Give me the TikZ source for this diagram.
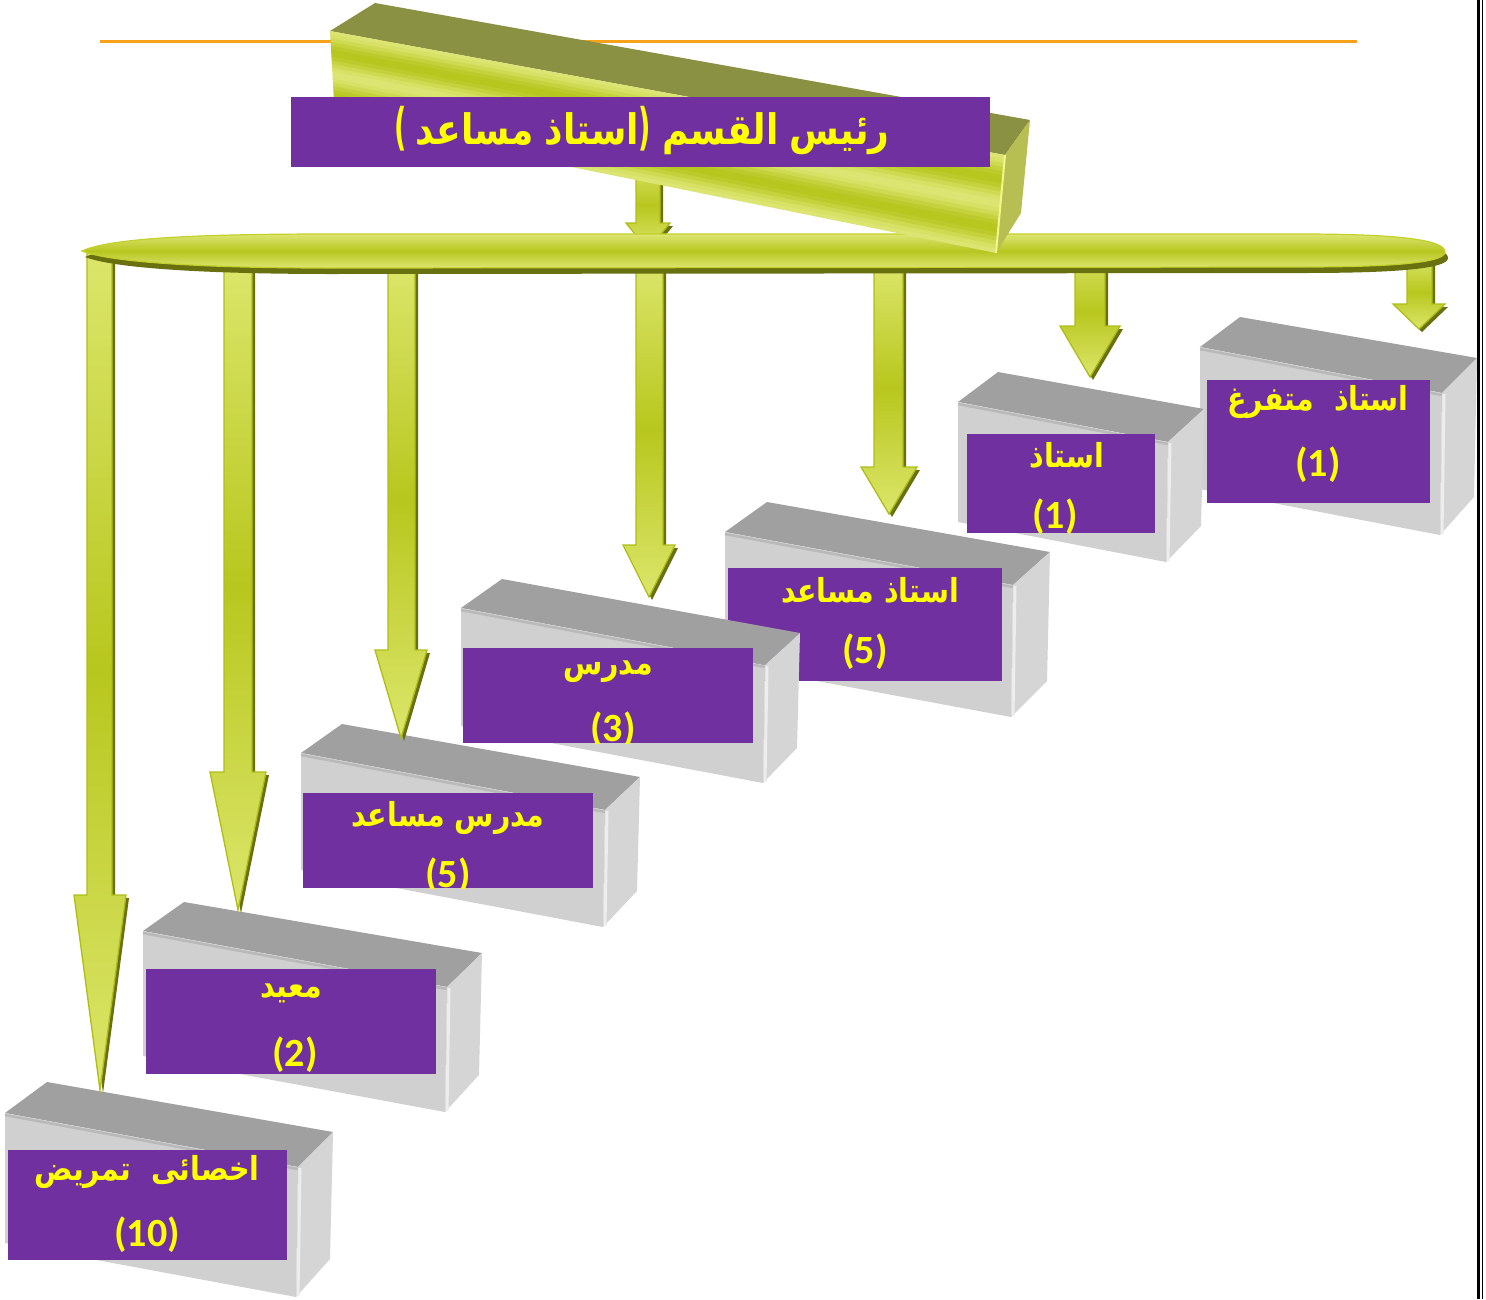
\documentclass[tikz,border=0pt]{standalone}
\usepackage{fontspec}
\usepackage{graphicx}
\TeXXeTstate=1
\newfontfamily\arabicfont[Script=Arabic]{DejaVu Sans}
\newfontfamily\parenfont{DejaVu Sans}
\newfontfamily\numfont{Carlito}
\definecolor{boxpurple}{HTML}{7030A0}
\definecolor{labyellow}{HTML}{FFFF00}
\definecolor{topgray}{HTML}{A0A0A0}
\definecolor{frontgray}{HTML}{D0D0D0}
\definecolor{sidegray}{HTML}{D5D5D5}
\definecolor{edgegray}{HTML}{B9B9B9}
\definecolor{stripwhite}{HTML}{EDEDED}
\definecolor{arrlight}{HTML}{DCE66B}
\definecolor{arrdark}{HTML}{B8C71E}
\definecolor{arrborder}{HTML}{AFBE17}
\definecolor{arrshadow}{HTML}{687010}
\definecolor{beamlight}{HTML}{DDE672}
\definecolor{beamdark}{HTML}{B7C61F}
\definecolor{beamtop}{HTML}{8A9142}
\definecolor{beamside}{HTML}{B7BF52}
\definecolor{beamedge}{HTML}{F4F58C}
\definecolor{busborder}{HTML}{C3D02A}
\definecolor{orangeline}{HTML}{F7A21B}

\newcommand\ar[1]{{\arabicfont\bfseries\beginR#1\endR}}
\newcommand\tparen[1]{{\parenfont\bfseries\scalebox{0.75}[1.2]{#1}}}

% front-left x,y ; front-right x,y ; back-left x,y ; back-right x,y ; height
\newcommand\stepbox[9]{%
  \fill[topgray] (#1,#2) -- (#5,#6) -- (#7,#8) -- (#3,#4) -- cycle;
  \fill[frontgray] (#1,#2) -- (#3,#4) -- ({#3-2},{#4+#9}) -- (#1,{#2+#9}) -- cycle;
  \draw[edgegray, line width=2.5] (#1,{#2+2}) -- (#3,{#4+2});
  \fill[sidegray] (#3,#4) -- (#7,#8) -- ({#7-3},{#8+#9-3}) -- ({#3-2},{#4+#9}) -- cycle;
  \draw[stripwhite, line width=3] ({#3+2},{#4+1}) -- ({#3},{#4+#9-1});
}

% shaft left, shaft right, top, head y, centre x, head half width, tip y
\newcommand\blockarrow[7]{%
  \fill[arrshadow] ({#1+3},{#3+3}) -- ({#2+3},{#3+3}) -- ({#2+3},{#4+3}) -- ({#5+#6+3},{#4+3}) -- ({#5+3},{#7+3}) -- ({#5-#6+3},{#4+3}) -- ({#1+3},{#4+3}) -- cycle;
  \path[draw=arrborder, line width=1.3, top color=arrlight, bottom color=arrlight, middle color=arrdark] (#1,#3) -- (#2,#3) -- (#2,#4) -- ({#5+#6},#4) -- (#5,#7) -- ({#5-#6},#4) -- (#1,#4) -- cycle;
}

\tikzset{
  purplebox/.style={fill=boxpurple, draw=none, inner sep=0pt},
  labtext/.style={text=labyellow, inner sep=0pt, font=\fontsize{30}{36}\selectfont},
  numtext/.style={text=labyellow, inner sep=0pt, font=\numfont\bfseries\fontsize{40}{48}\selectfont},
  titletext/.style={text=labyellow, inner sep=0pt, font=\fontsize{40}{48}\selectfont},
}

\begin{document}
\begin{tikzpicture}[x=1pt, y=-1pt]
\useasboundingbox (0,0) rectangle (1486,1299);
\fill[white] (0,0) rectangle (1486,1299);

% orange rule
\draw[orangeline, line width=3] (100,41) -- (1357,41);

% ---- boxes, from back (upper right) to front (lower left)
% box 7
\stepbox{1200}{347}{1442}{393}{1240}{317}{1477}{358}{142}
\node[purplebox, minimum width=223, minimum height=123] (b7) at (1318.5,441.5) {};
\begin{scope}
\clip (1207,380) rectangle (1430,503);
\node[labtext] (b7t) at (1318,402) {\scalebox{0.95}[1.1]{\ar{استاذ\ \ متفرغ}}};
\node[numtext] (b7n) at (1318,465) {(1)};
\end{scope}
% box 6
\stepbox{958}{402}{1168}{442}{998}{372}{1204}{409}{120}
\node[purplebox, minimum width=188, minimum height=99] (b6) at (1061,483.5) {};
\begin{scope}
\clip (967,434) rectangle (1155,533);
\node[labtext] (b6t) at (1067,455) {\scalebox{0.95}[1.1]{\ar{استاذ}}};
\node[numtext] (b6n) at (1055,517) {(1)};
\end{scope}
% box 5
\stepbox{725}{532}{1013}{585}{767}{502}{1050}{552}{132}
\node[purplebox, minimum width=274, minimum height=113] (b5) at (865,624.5) {};
\begin{scope}
\clip (728,568) rectangle (1002,681);
\node[labtext] (b5t) at (870,590) {\scalebox{0.95}[1.1]{\ar{استاذ مساعد}}};
\node[numtext] (b5n) at (865,652) {(5)};
\end{scope}
% box 4
\stepbox{461}{608}{765}{665}{502}{579}{800}{633}{118}
\node[purplebox, minimum width=290, minimum height=95] (b4) at (608,695.5) {};
\begin{scope}
\clip (463,648) rectangle (753,743);
\node[labtext] (b4t) at (608,672) {\scalebox{0.95}[1.1]{\ar{مدرس}}};
\node[numtext] (b4n) at (613,730) {(3)};
\end{scope}
% box 3
\stepbox{301}{753}{605}{810}{342}{724}{640}{777}{117}
\node[purplebox, minimum width=290, minimum height=95] (b3) at (448,840.5) {};
\begin{scope}
\clip (303,793) rectangle (593,888);
\node[labtext] (b3t) at (448,818) {\scalebox{0.95}[1.1]{\ar{مدرس مساعد}}};
\node[numtext] (b3n) at (448,876) {(5)};
\end{scope}
% box 2
\stepbox{143}{931}{447}{987}{184}{902}{482}{953}{125}
\node[purplebox, minimum width=290, minimum height=105] (b2) at (291,1021.5) {};
\begin{scope}
\clip (146,969) rectangle (436,1074);
\node[labtext] (b2t) at (291,993) {\scalebox{0.95}[1.1]{\ar{معيد}}};
\node[numtext] (b2n) at (295,1055) {(2)};
\end{scope}
% box 1
\stepbox{5}{1113}{298}{1167}{47}{1082}{333}{1132}{130}
\node[purplebox, minimum width=279, minimum height=110] (b1) at (147.5,1205) {};
\begin{scope}
\clip (8,1150) rectangle (287,1260);
\node[labtext] (b1t) at (147,1172) {\scalebox{0.95}[1.1]{\ar{اخصائى\ \ تمريض}}};
\node[numtext] (b1n) at (147,1235) {(10)};
\end{scope}

% ---- arrows from the bus to the boxes
\blockarrow{87}{112}{250}{895}{100}{26}{1090}
\blockarrow{224}{252}{262}{772}{238}{28}{910}
\blockarrow{388}{415}{262}{650}{401}{26}{738}
\blockarrow{636}{663}{262}{545}{649}{26}{597}
\blockarrow{874}{903}{262}{467}{889}{28}{514}
\blockarrow{1075}{1105}{245}{326}{1090}{30}{377}
\blockarrow{1407}{1432}{255}{304}{1419}{26}{329}
% arrow from the head beam down to the bus
\blockarrow{636}{660}{160}{223}{648}{22}{250}

% ---- bus
\fill[arrshadow, shift={(3,6)}] (82,251) .. controls (110,238) and (200,234) .. (330,234) -- (1300,234) .. controls (1400,234) and (1445,240) .. (1445,252) .. controls (1445,262) and (1400,267) .. (1300,267) -- (330,268) .. controls (200,268) and (110,262) .. (82,251) -- cycle;
\path[draw=busborder, line width=1.2, top color=beamlight, bottom color=beamlight, middle color=beamdark] (82,251) .. controls (110,238) and (200,234) .. (330,234) -- (1300,234) .. controls (1400,234) and (1445,240) .. (1445,252) .. controls (1445,262) and (1400,267) .. (1300,267) -- (330,268) .. controls (200,268) and (110,262) .. (82,251) -- cycle;

% ---- head beam
\fill[beamtop] (375,3) -- (330,31) -- (1005,155) -- (1030,120) -- cycle;
\foreach \i in {0,...,23} {
  \pgfmathsetmacro\ta{\i/24}
  \pgfmathsetmacro\tb{min((\i+1.15)/24,1)}
  \pgfmathsetmacro\pc{50+50*cos(\ta*720+15)}
  \colorlet{stripc}{beamlight!\pc!beamdark}
  \fill[stripc] ({330+5*\ta},{31+88*\ta}) -- ({1005-9*\ta},{155+98*\ta}) -- ({1005-9*\tb},{155+98*\tb}) -- ({330+5*\tb},{31+88*\tb}) -- cycle;
}
\fill[beamside] (1005,155) -- (1030,120) -- (1021,213) -- (996,253) -- cycle;
\draw[beamedge, line width=2] (1005,155) -- (996,253);

% ---- title
\node[purplebox, minimum width=699, minimum height=70] (head) at (640.5,132) {};
\node[titletext] (headt) at (642,131) {\scalebox{0.9}[1.05]{\tparen{(}\hspace{10pt}\ar{مساعد}\ \ar{استاذ}\tparen{)}\ \ar{القسم}\ \ar{رئيس}}};

% ---- page border
\draw[black, line width=3] (1478,0) -- (1478,1299);
\draw[black, line width=1.5] (1482.5,0) -- (1482.5,1299);
\end{tikzpicture}
\end{document}
